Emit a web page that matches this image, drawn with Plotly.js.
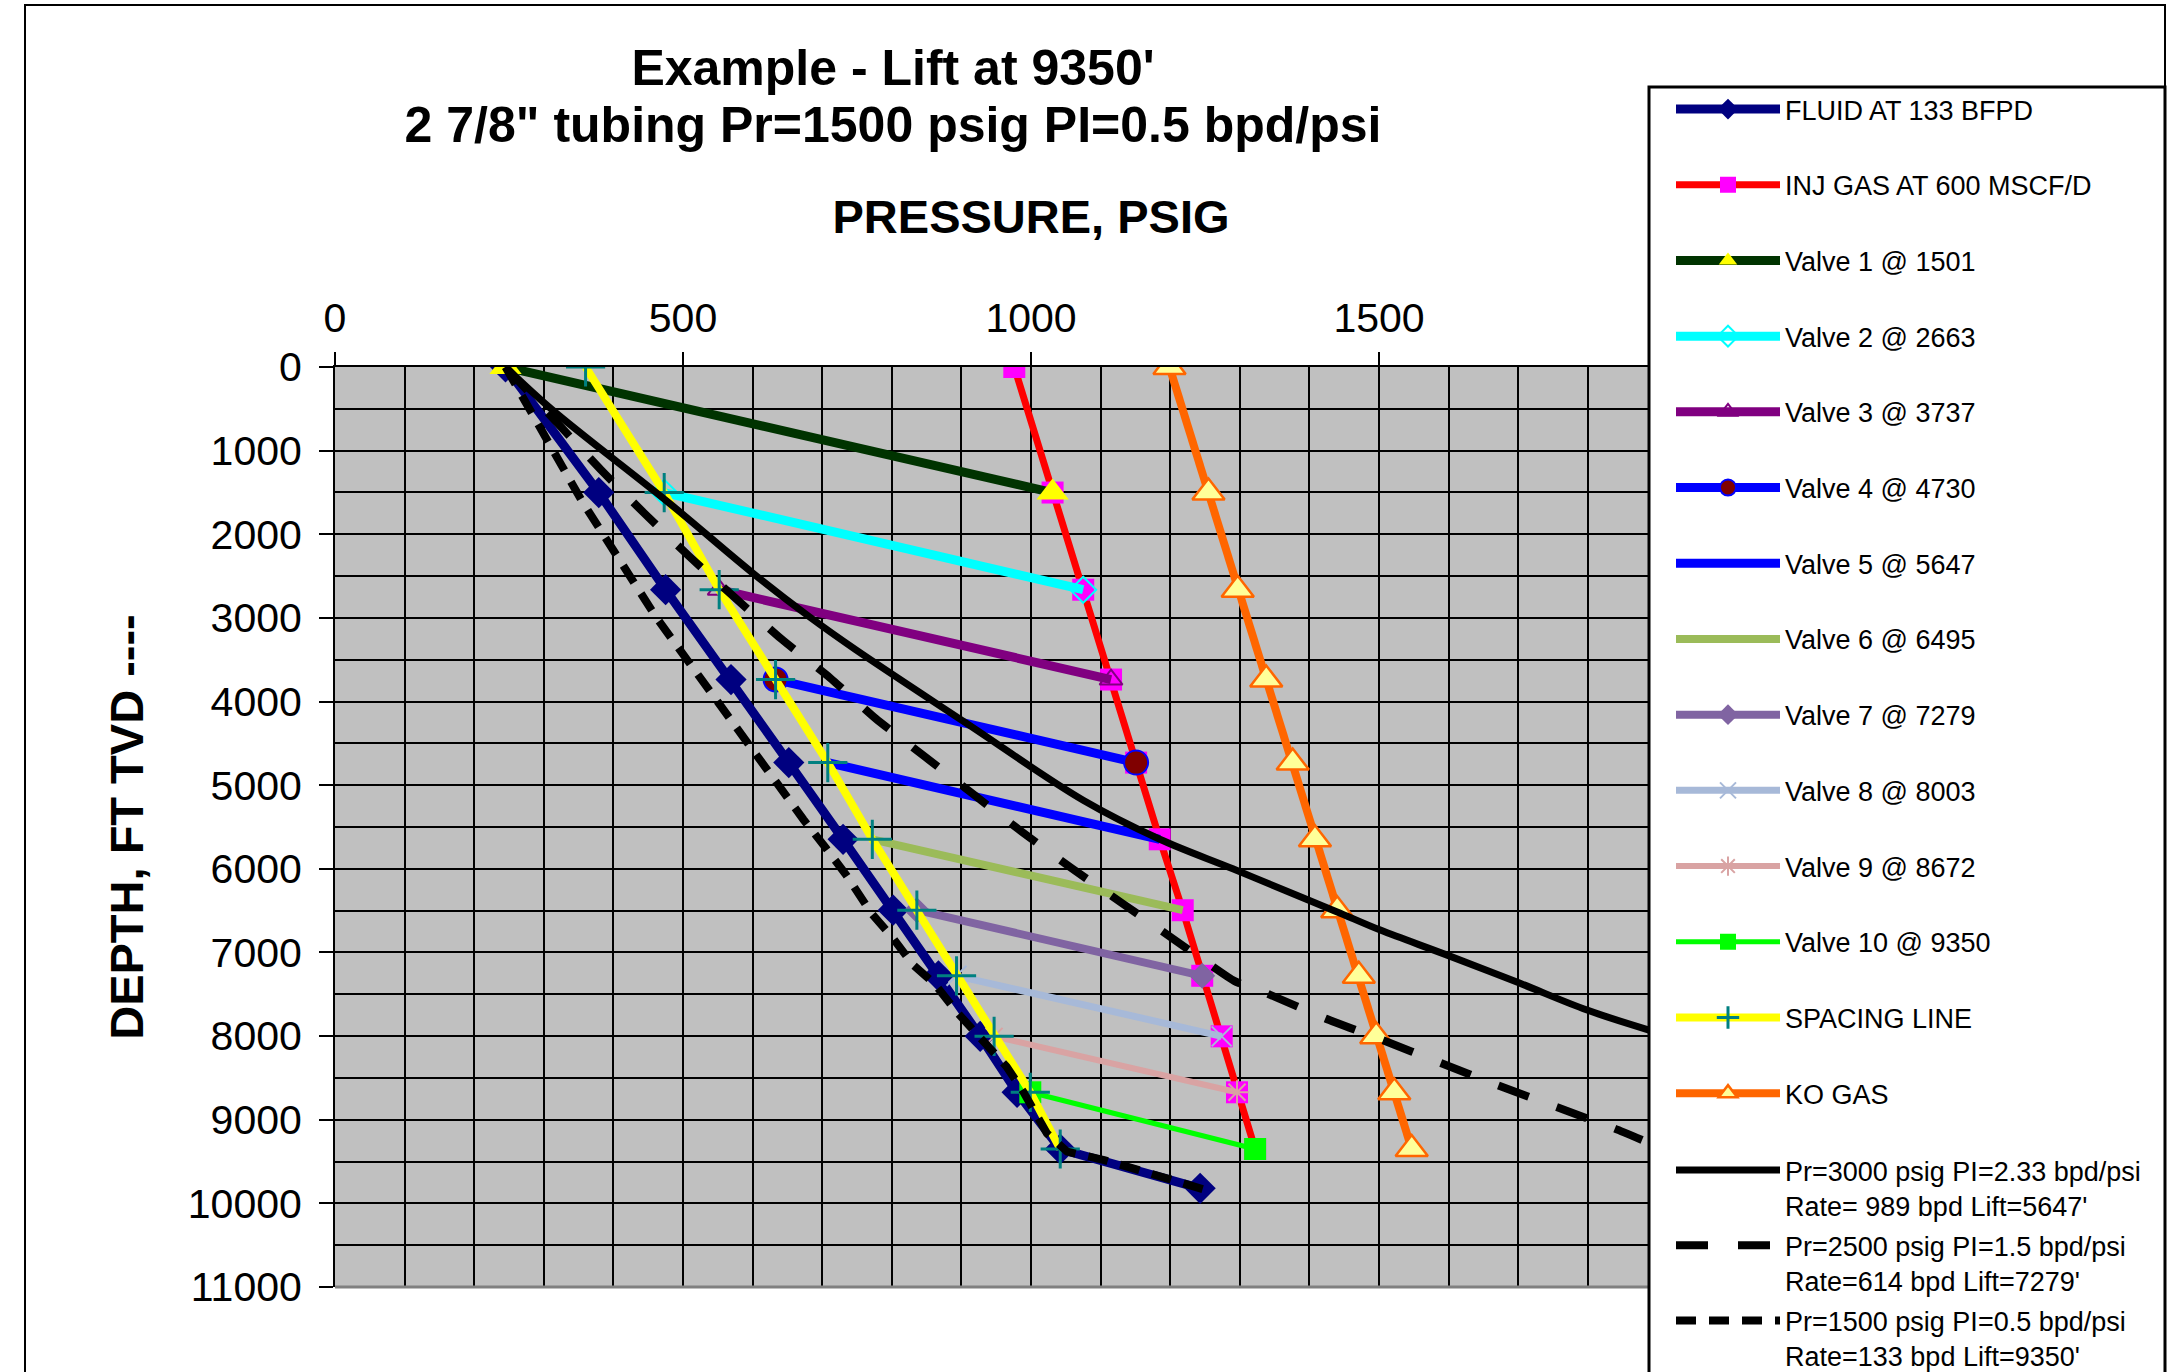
<!DOCTYPE html>
<html>
<head>
<meta charset="utf-8">
<script src="https://cdn.plot.ly/plotly-3.0.1.min.js"></script>
<style>
html,body{margin:0;padding:0;background:#ffffff;}
#chart{width:2182px;height:1372px;}
</style>
</head>
<body>
<div id="chart"></div>
<script>
// ---------------- DATA (pressure in psig, depth in ft TVD) ----------------
const valveDepths = [1501, 2663, 3737, 4730, 5647, 6495, 7279, 8003, 8672, 9350];

const fluidPressure = [245, 379, 475, 569, 652, 730, 802, 867, 927, 980, 1042, 1243];
const fluidDepth    = [0, 1501, 2663, 3737, 4730, 5647, 6495, 7279, 8003, 8672, 9350, 9820];

const gasPressure = [976, 1031, 1075, 1115, 1151, 1185, 1218, 1246, 1274, 1296, 1322];
const gasDepth    = [0, 1501, 2663, 3737, 4730, 5647, 6495, 7279, 8003, 8672, 9350];

const valveStartPressure = [245, 473, 552, 633, 708, 772, 836, 893, 947, 999];
const valveStartDepth    = [0, 1501, 2663, 3737, 4730, 5647, 6495, 7279, 8003, 8672];
const valveEndPressure   = [1031, 1075, 1115, 1151, 1185, 1218, 1246, 1274, 1296, 1322];

const spacingPressure = [360, 473, 552, 633, 708, 772, 836, 893, 947, 999, 1042];
const spacingDepth    = [0, 1501, 2663, 3737, 4730, 5647, 6495, 7279, 8003, 8672, 9350];

const koPressure = [1199, 1255, 1297, 1338, 1376, 1408, 1440, 1471, 1496, 1522, 1547];
const koDepth    = [0, 1501, 2663, 3737, 4730, 5647, 6495, 7279, 8003, 8672, 9350];

const pr3000Pressure = [245, 312, 480, 600, 682, 748, 908, 1075, 1185, 1290, 1387, 1440, 1502, 1598, 1700, 1799, 1888];
const pr3000Depth    = [0, 511, 1626, 2462, 2989, 3379, 4264, 5180, 5647, 6000, 6335, 6515, 6733, 7032, 7360, 7689, 7928];

const pr2500Pressure = [245, 382, 444, 509, 641, 711, 777, 848, 917, 987, 1059, 1133, 1207, 1258, 1292, 1339, 1423, 1505, 1588, 1670, 1754, 1838, 1878];
const pr2500Depth    = [0, 1228, 1746, 2264, 3250, 3715, 4204, 4662, 5108, 5558, 5997, 6423, 6853, 7151, 7340, 7490, 7789, 8048, 8319, 8586, 8845, 9104, 9243];

const pr1500Pressure = [245, 307, 355, 462, 493, 551, 584, 610, 642, 673, 705, 734, 771, 802, 831, 861, 893, 965, 989, 1023, 1052, 1105, 1155, 1203, 1251];
const pr1500Depth    = [0, 909, 1606, 2999, 3359, 4023, 4402, 4693, 5071, 5410, 5749, 6068, 6534, 6833, 7152, 7371, 7709, 8367, 8666, 9164, 9382, 9482, 9602, 9721, 9841];

const legendNames = [
  'FLUID AT 133 BFPD',
  'INJ GAS AT 600 MSCF/D',
  'Valve 1 @ 1501', 'Valve 2 @ 2663', 'Valve 3 @ 3737', 'Valve 4 @ 4730', 'Valve 5 @ 5647',
  'Valve 6 @ 6495', 'Valve 7 @ 7279', 'Valve 8 @ 8003', 'Valve 9 @ 8672', 'Valve 10 @ 9350',
  'SPACING LINE',
  'KO GAS',
  "Pr=3000 psig PI=2.33 bpd/psi<br>Rate= 989 bpd Lift=5647'",
  "Pr=2500 psig PI=1.5 bpd/psi<br>Rate=614 bpd Lift=7279'",
  "Pr=1500 psig PI=0.5 bpd/psi<br>Rate=133 bpd Lift=9350'"
];
const xTickValues = [0, 500, 1000, 1500, 2000];
const yTickValues = [0, 1000, 2000, 3000, 4000, 5000, 6000, 7000, 8000, 9000, 10000, 11000];

// ---------------- STYLES ----------------
const valveStyles = [
  {color:'#003300', width:9, mode:'lines+markers', marker:{symbol:'triangle-up', size:28, color:'#FFFF00'}},
  {color:'#00FFFF', width:9, mode:'lines+markers', marker:{symbol:'diamond-open', size:20, color:'#00FFFF', line:{width:2}}},
  {color:'#800080', width:9, mode:'lines+markers', marker:{symbol:'triangle-up-open', size:20, color:'#800080', line:{width:2}}},
  {color:'#0000FF', width:9, mode:'lines+markers', marker:{symbol:'circle', size:24, color:'#800000', line:{color:'#0000FF', width:2}}},
  {color:'#0000FF', width:9, mode:'lines', marker:{}},
  {color:'#9BBB59', width:8, mode:'lines', marker:{}},
  {color:'#8064A2', width:8, mode:'lines+markers', marker:{symbol:'diamond', size:20, color:'#8064A2'}},
  {color:'#A7B9D8', width:7, mode:'lines+markers', marker:{symbol:'x-thin-open', size:20, color:'#A7B9D8', line:{width:2}}},
  {color:'#D9A3A3', width:6, mode:'lines+markers', marker:{symbol:'asterisk-open', size:20, color:'#D9A3A3', line:{width:2}}},
  {color:'#00FF00', width:5, mode:'lines+markers', marker:{symbol:'square', size:22, color:'#00FF00'}}
];

const FONT = 'Arial, "Liberation Sans", Helvetica, sans-serif';
const traces = [];
let g = 0;
function grp(){ g += 1; return 'g' + g; }

traces.push({
  x: fluidPressure, y: fluidDepth, name: legendNames[0], type:'scatter', mode:'lines+markers',
  line:{color:'#000080', width:9}, marker:{symbol:'diamond', size:24, color:'#000080'},
  legend:'legend', legendgroup:grp()
});
traces.push({
  x: gasPressure, y: gasDepth, name: legendNames[1], type:'scatter', mode:'lines+markers',
  line:{color:'#FF0000', width:7}, marker:{symbol:'square', size:22, color:'#FF00FF'},
  legend:'legend', legendgroup:grp()
});
for (let i = 0; i < valveDepths.length; i++) {
  const s = valveStyles[i];
  traces.push({
    x: [valveStartPressure[i], valveEndPressure[i]],
    y: [valveStartDepth[i], valveDepths[i]],
    name: legendNames[2 + i], type:'scatter', mode:s.mode,
    line:{color:s.color, width:s.width}, marker:s.marker,
    legend:'legend', legendgroup:grp()
  });
}
traces.push({
  x: spacingPressure, y: spacingDepth, name: legendNames[12], type:'scatter', mode:'lines+markers',
  line:{color:'#FFFF00', width:8},
  marker:{symbol:'cross-thin-open', size:28, color:'#008080', line:{width:3}},
  legend:'legend', legendgroup:grp()
});
traces.push({
  x: koPressure, y: koDepth, name: legendNames[13], type:'scatter', mode:'lines+markers',
  line:{color:'#FF6600', width:8},
  marker:{symbol:'triangle-up', size:28, color:'#FFFF99', line:{color:'#FF6600', width:2.5}},
  legend:'legend', legendgroup:grp()
});
traces.push({
  x: pr3000Pressure, y: pr3000Depth, name: legendNames[14], type:'scatter', mode:'lines',
  line:{color:'#000000', width:7, shape:'spline', smoothing:1.0},
  legend:'legend2', legendgroup:grp()
});
traces.push({
  x: pr2500Pressure, y: pr2500Depth, name: legendNames[15], type:'scatter', mode:'lines',
  line:{color:'#000000', width:8, dash:'32px,30px', shape:'spline', smoothing:0.5},
  legend:'legend2', legendgroup:grp()
});
traces.push({
  x: pr1500Pressure, y: pr1500Depth, name: legendNames[16], type:'scatter', mode:'lines',
  line:{color:'#000000', width:8, dash:'20px,13px'},
  legend:'legend2', legendgroup:grp()
});

// ---------------- LAYOUT ----------------
const W = 2182, H = 1372;
const ML = 335, MR = 455, MT = 367, MB = 85;
const PW = W - ML - MR, PH = H - MT - MB;
const px = X => (X - ML) / PW;          // pixel -> paper x
const py = Y => (MT + PH - Y) / PH;     // pixel -> paper y

const layout = {
  width: W, height: H,
  margin: {l: ML, r: MR, t: MT, b: MB, pad: 0, autoexpand: false},
  paper_bgcolor: '#FFFFFF',
  plot_bgcolor: '#C0C0C0',
  font: {family: FONT, color: '#000000'},
  title: {
    text: '<span style="font-size:50px">Example - Lift at 9350\'</span><br><span style="font-size:50px">2 7/8" tubing Pr=1500 psig PI=0.5 bpd/psi</span>',
    font: {family: FONT, size: 44, weight: 'bold', color: '#000000'},
    xref: 'container', x: 893 / W, xanchor: 'center',
    yref: 'container', y: 1 - 85 / H, yanchor: 'top'
  },
  xaxis: {
    side: 'top', range: [0, 2000], tickvals: xTickValues, ticktext: xTickValues.map(String),
    showgrid: true, gridcolor: '#000000', gridwidth: 2,
    minor: {dtick: 100, tick0: 0, showgrid: true, gridcolor: '#000000', gridwidth: 2, ticks: ''},
    ticks: 'outside', ticklen: 13, tickwidth: 2, tickcolor: '#000000', ticklabelstandoff: 4,
    showline: true, linecolor: '#000000', linewidth: 2, zeroline: false,
    tickfont: {family: FONT, size: 41, color: '#000000'},
    title: {text: 'PRESSURE, PSIG', font: {family: FONT, size: 47, weight: 'bold', color: '#000000'}, standoff: 46},
    fixedrange: true
  },
  yaxis: {
    range: [11000, 0], tickvals: yTickValues, ticktext: yTickValues.map(String),
    showgrid: true, gridcolor: '#000000', gridwidth: 2,
    minor: {dtick: 500, tick0: 0, showgrid: true, gridcolor: '#000000', gridwidth: 2, ticks: ''},
    ticks: 'outside', ticklen: 14, tickwidth: 2, tickcolor: '#000000', ticklabelstandoff: 9,
    showline: true, linecolor: '#000000', linewidth: 2, zeroline: false,
    tickfont: {family: FONT, size: 41, color: '#000000'},
    title: {text: 'DEPTH, FT TVD ----', font: {family: FONT, size: 47, weight: 'bold', color: '#000000'}, standoff: 29},
    fixedrange: true
  },
  showlegend: true,
  legend: {
    x: px(1671), xanchor: 'left', y: py(85), yanchor: 'top',
    bgcolor: 'rgba(0,0,0,0)', borderwidth: 0, maxheight: 1300,
    font: {family: FONT, size: 27, color: '#000000'},
    itemwidth: 104, tracegroupgap: 37.6, traceorder: 'grouped', valign: 'middle'
  },
  legend2: {
    x: px(1671), xanchor: 'left', y: py(1146), yanchor: 'top',
    bgcolor: 'rgba(0,0,0,0)', borderwidth: 0, maxheight: 1300,
    font: {family: FONT, size: 27, color: '#000000'},
    itemwidth: 104, tracegroupgap: 2, traceorder: 'grouped', valign: 'top'
  },
  shapes: [
    // outer chart frame
    {type:'rect', xref:'paper', yref:'paper', x0: px(25), x1: px(2165), y0: py(1420), y1: py(5),
     line:{color:'#000000', width:2}, fillcolor:'rgba(0,0,0,0)', layer:'below'},
    // bottom edge of plot area
    {type:'line', xref:'paper', yref:'paper', x0: 0, x1: px(1649), y0: 0, y1: 0,
     line:{color:'#808080', width:3}, layer:'above'},
    // legend box
    {type:'rect', xref:'paper', yref:'paper', x0: px(1649), x1: px(2165), y0: py(1420), y1: py(87),
     line:{color:'#000000', width:3}, fillcolor:'#FFFFFF', layer:'above'}
  ]
};

Plotly.newPlot('chart', traces, layout, {displayModeBar: false, staticPlot: true});
</script>
</body>
</html>
